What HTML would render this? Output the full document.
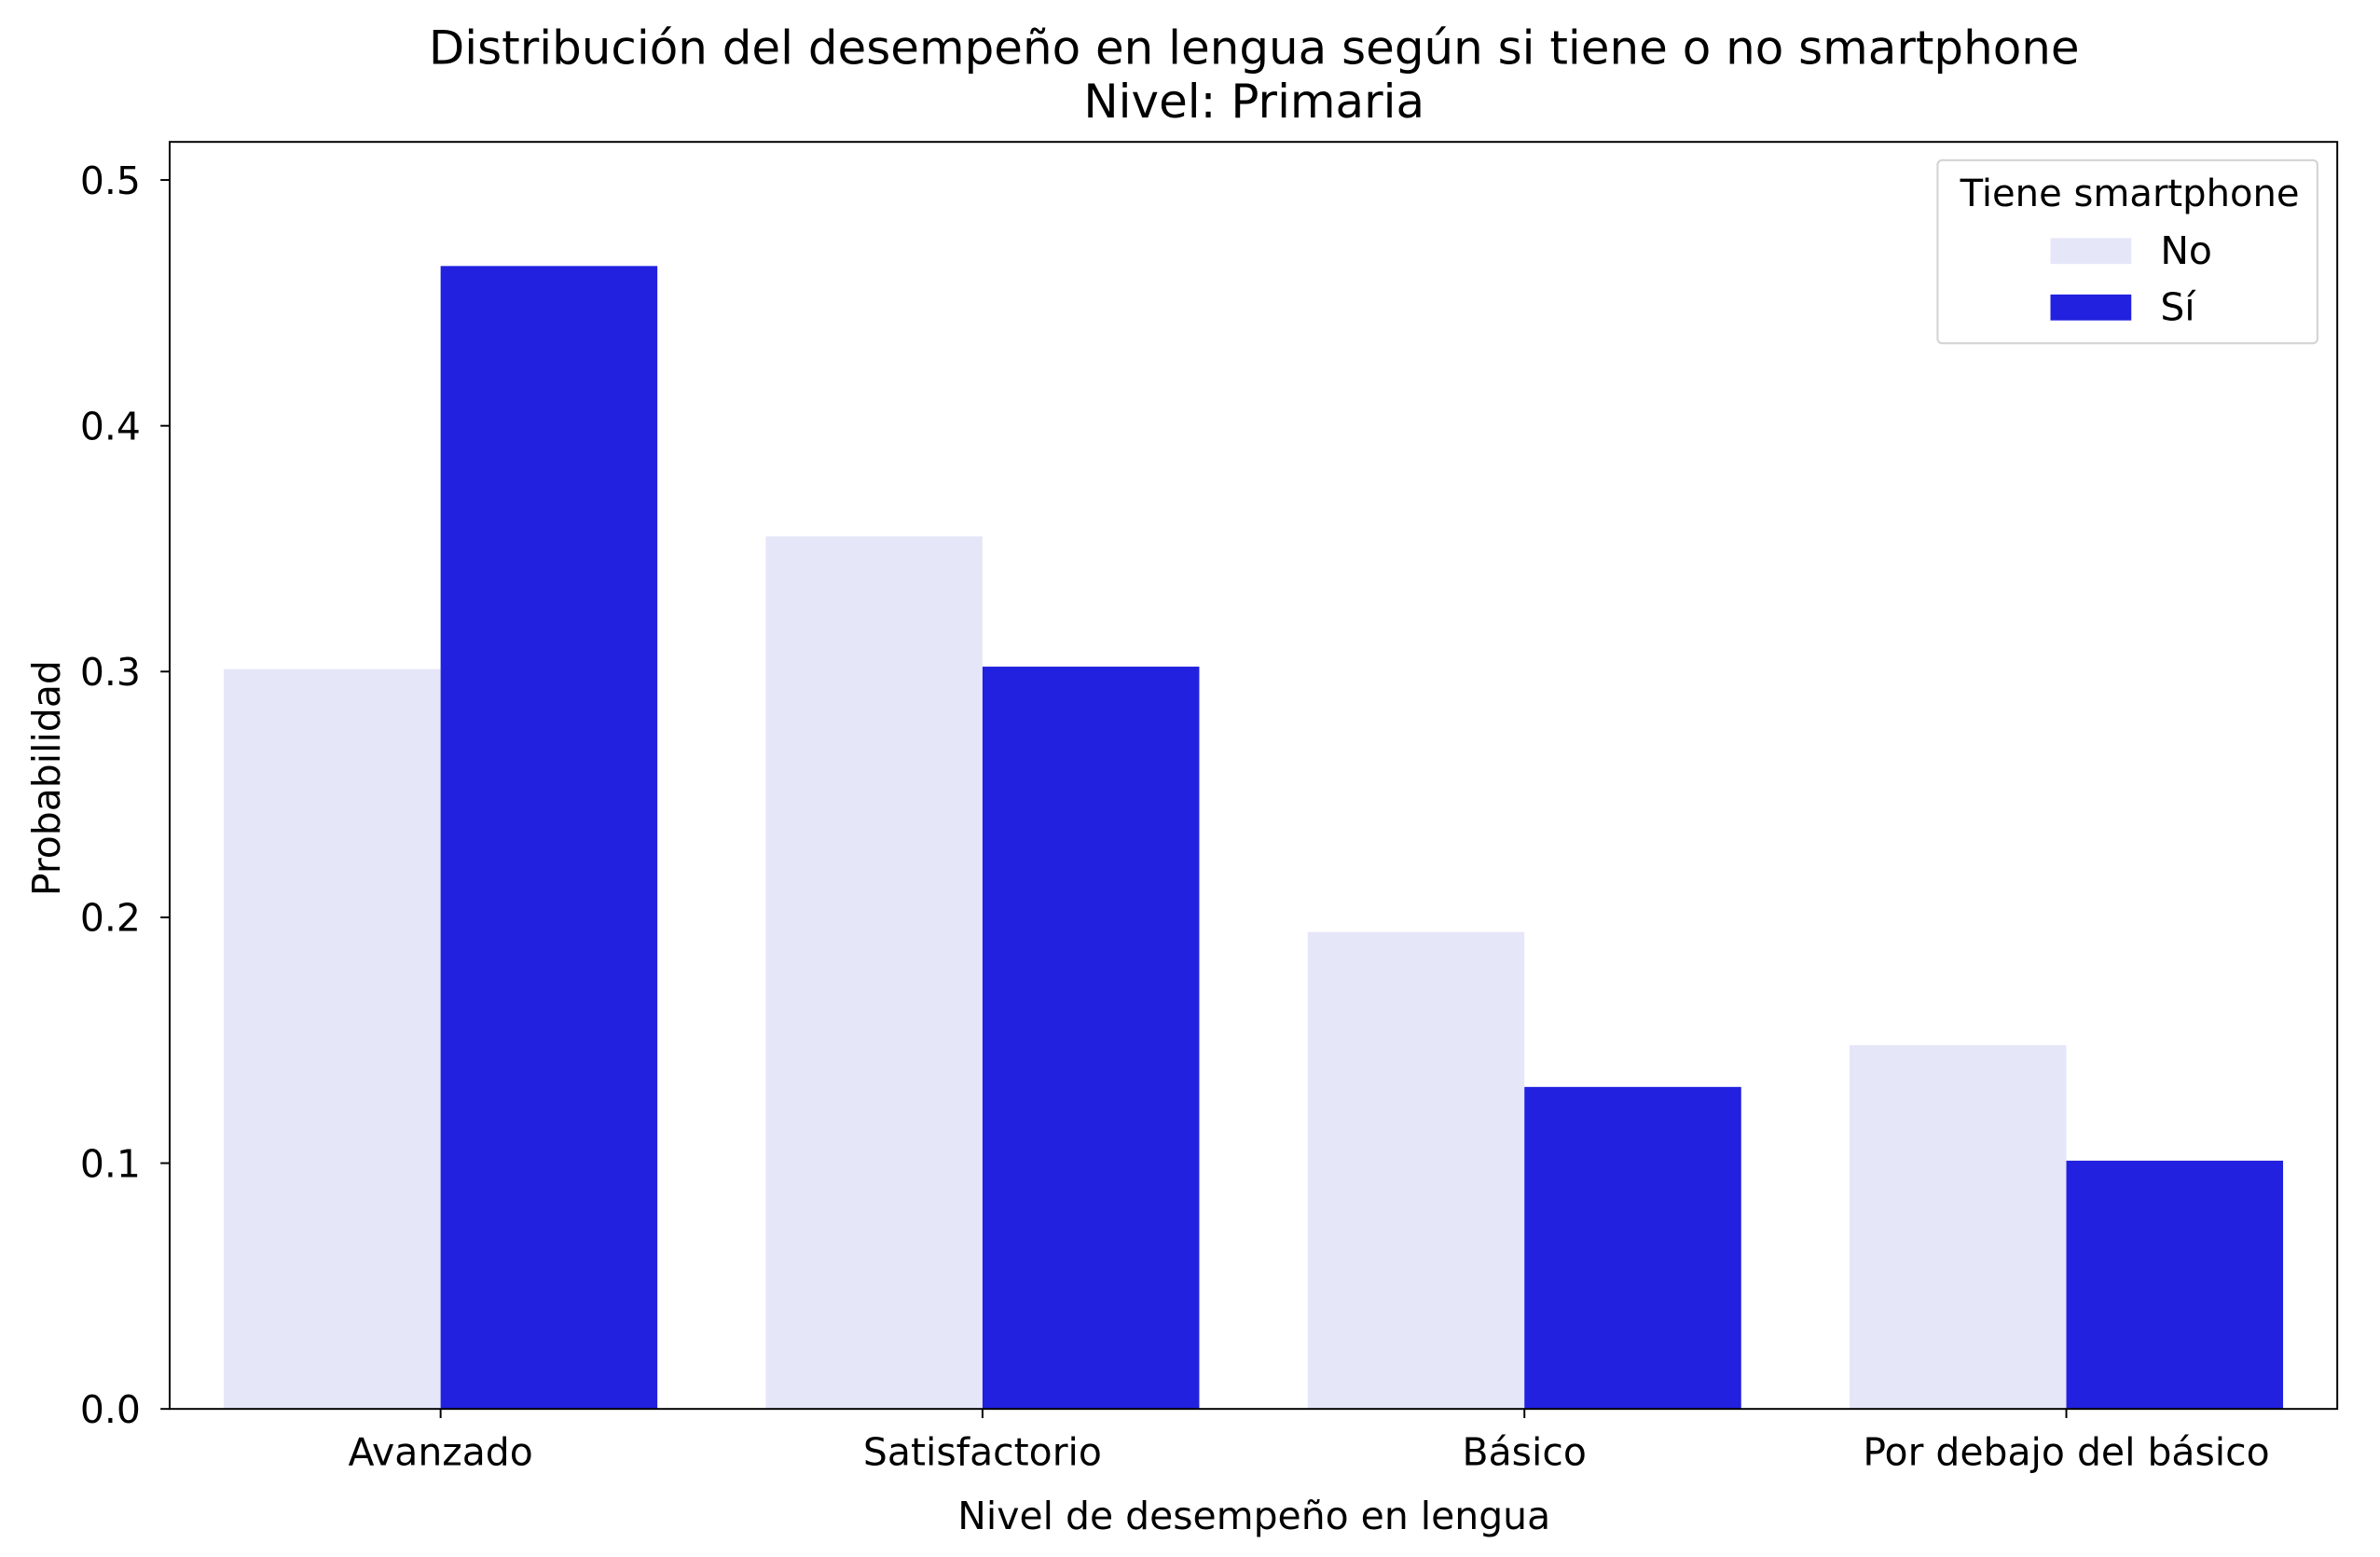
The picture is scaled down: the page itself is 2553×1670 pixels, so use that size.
<!DOCTYPE html>
<html><head><meta charset="utf-8"><style>
html,body{margin:0;padding:0;background:#fff;}
svg{display:block;font-family:"DejaVu Sans","Liberation Sans",sans-serif;}
</style></head><body>
<svg id="chart" width="2553" height="1670" viewBox="0 0 1560 1020.45">
<rect x="0" y="0" width="1560" height="1020.45" fill="#fff"/>
<text x="822" y="42" font-size="30.5" text-anchor="middle">Distribución del desempeño en lengua según si tiene o no smartphone</text>
<text x="822" y="77" font-size="30.5" text-anchor="middle">Nivel: Primaria</text>
<g id="bars"></g>
<g id="axes"></g>
<text x="822" y="1002" font-size="25" text-anchor="middle">Nivel de desempeño en lengua</text>
<text transform="translate(39,510) rotate(-90)" font-size="25" text-anchor="middle">Probabilidad</text>
<g>
<rect x="1270" y="105" width="249" height="120" rx="3" fill="#fff" stroke="#d4d4d4" stroke-width="1.3"/>
<text x="1396" y="135" font-size="24.5" text-anchor="middle">Tiene smartphone</text>
<rect x="1344" y="156" width="53" height="17" fill="#e6e6f9"/>
<text x="1416" y="173" font-size="25">No</text>
<rect x="1344" y="193" width="53" height="17" fill="#2121df"/>
<text x="1416" y="210" font-size="25">Sí</text>
</g>
</svg>
<script>
const categories = ["Avanzado","Satisfactorio","Básico","Por debajo del básico"];
const seriesNo = [0.301,0.355,0.194,0.148];
const seriesSi = [0.465,0.302,0.131,0.101];
const yTicks = [0.0,0.1,0.2,0.3,0.4,0.5];
const yTickLabels = ["0.0","0.1","0.2","0.3","0.4","0.5"];

const NS="http://www.w3.org/2000/svg";
const L=111.2,R=1532,T=93,B=923.4;
const yMax=0.5155;
const xs=i=>L+(i+0.5)*(R-L)/categories.length;
const ys=v=>B-v*(B-T)/yMax;
const bw=0.4*(R-L)/categories.length;
function mk(tag,attrs,parent){const e=document.createElementNS(NS,tag);for(const k in attrs)e.setAttribute(k,attrs[k]);parent.appendChild(e);return e;}
const bars=document.getElementById('bars'), axes=document.getElementById('axes');
categories.forEach((c,i)=>{
  const cx=xs(i);
  const r1=mk('rect',{x:cx-bw,y:ys(seriesNo[i]),width:bw,height:B-ys(seriesNo[i]),fill:'#e6e6f9'},bars);
  
  
  const r2=mk('rect',{x:cx,y:ys(seriesSi[i]),width:bw,height:B-ys(seriesSi[i]),fill:'#2121df'},bars);
  
  
  const tk=mk('line',{x1:cx,x2:cx,y1:B,y2:B+6,stroke:'#000','stroke-width':1.2},axes);
  
  
  const t=mk('text',{x:cx,y:B+37,'font-size':25,'text-anchor':'middle'},axes);
  t.textContent=c;
  
  
});
yTicks.forEach((v,i)=>{
  const y=ys(v);
  const tk=mk('line',{x1:L-6,x2:L,y1:y,y2:y,stroke:'#000','stroke-width':1.2},axes);
  
  
  const t=mk('text',{x:L-19,y:y+9,'font-size':25,'text-anchor':'end'},axes);
  t.textContent=yTickLabels[i];
  
  
});
const fr=mk('rect',{x:L,y:T,width:R-L,height:B-T,fill:'none',stroke:'#000','stroke-width':1.2},axes);


</script>
</body></html>
